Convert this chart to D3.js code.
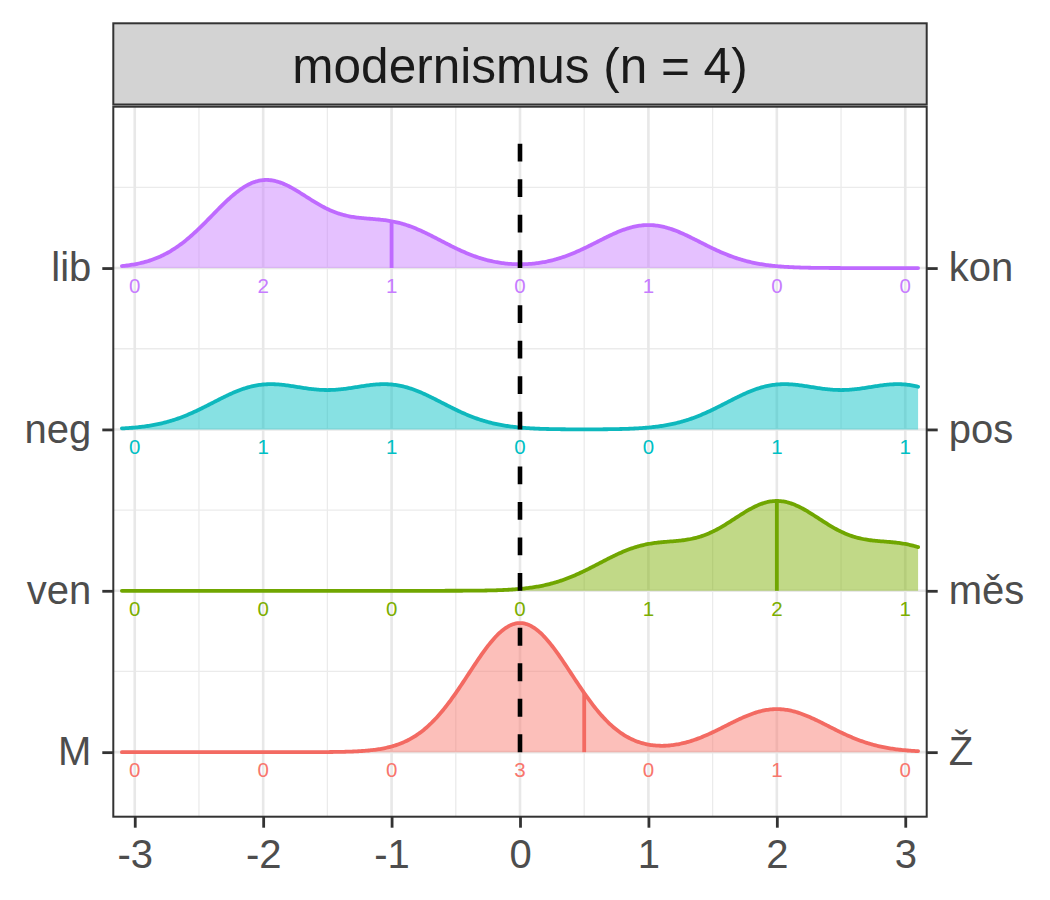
<!DOCTYPE html>
<html>
<head>
<meta charset="utf-8">
<script src="https://cdn.jsdelivr.net/npm/d3@7"></script>
<style>
  html, body { margin: 0; padding: 0; background: #fff; }
  svg { display: block; font-family: "Liberation Sans", Arial, Helvetica, sans-serif; }
</style>
</head>
<body>
<svg id="chart" width="1050" height="900"></svg>
<script>
// ---- data ----
const facetTitle = "modernismus (n = 4)";
const xTicks = [-3, -2, -1, 0, 1, 2, 3];
const leftLabels = ["M", "ven", "neg", "lib"];
const rightLabels = ["Ž", "měs", "pos", "kon"];
// counts of responses at each scale point (-3..3), per ridge (bottom to top)
const countsMZ  = [0, 0, 0, 3, 0, 1, 0];
const countsVen = [0, 0, 0, 0, 1, 2, 1];
const countsNeg = [0, 1, 1, 0, 0, 1, 1];
const countsLib = [0, 2, 1, 0, 1, 0, 0];
const ridgeColors = ["#F8766D", "#7CAE00", "#00BFC4", "#C77CFF"];
const lineColors  = ["#F36A62", "#70A600", "#0EB8BD", "#BF6AFF"];
const bandwidth = 0.4;
const densityRange = [-3.1, 3.1];
const zeroLineX = 0;

const ridges = [countsMZ, countsVen, countsNeg, countsLib].map((counts, i) => ({
  level: i + 1,
  left: leftLabels[i],
  right: rightLabels[i],
  color: ridgeColors[i],
  lineColor: lineColors[i],
  counts
}));

// ---- layout ----
const panel = { left: 113.3, right: 926.7, top: 106.7, bottom: 816.7 };
const strip = { top: 23.3, bottom: 104.5 };
const ridgeScale = 0.8;

const svg = d3.select("#chart");
const x = d3.scaleLinear().domain([-3.167, 3.167]).range([panel.left, panel.right]);
const y = d3.scaleLinear().domain([0.6, 5.0]).range([panel.bottom, panel.top]);

// ---- KDE per ridge (gaussian kernel over the counted responses) ----
function kdeAt(counts, px) {
  const n = d3.sum(counts);
  let s = 0;
  counts.forEach((c, j) => {
    const u = (px - xTicks[j]) / bandwidth;
    s += c * Math.exp(-0.5 * u * u);
  });
  return s / (n * bandwidth * Math.sqrt(2 * Math.PI));
}
ridges.forEach(r => {
  r.dens = d3.range(densityRange[0], densityRange[1] + 1e-9, 0.01).map(px => ({ x: px, d: kdeAt(r.counts, px) }));
  r.mean = d3.sum(r.counts.map((c, j) => c * xTicks[j])) / d3.sum(r.counts);
  r.meanD = kdeAt(r.counts, r.mean);
});
const maxD = d3.max(ridges, r => d3.max(r.dens, p => p.d));
const h = d => d / maxD * ridgeScale;

// ---- grid ----
const grid = svg.append("g");
const minorX = d3.range(-2.5, 3.0, 1);
const minorY = [1.5, 2.5, 3.5, 4.5];
grid.selectAll(".mx").data(minorX).join("line")
  .attr("x1", d => x(d)).attr("x2", d => x(d)).attr("y1", panel.top).attr("y2", panel.bottom)
  .attr("stroke", "#ebebeb").attr("stroke-width", 1.3);
grid.selectAll(".my").data(minorY).join("line")
  .attr("y1", d => y(d)).attr("y2", d => y(d)).attr("x1", panel.left).attr("x2", panel.right)
  .attr("stroke", "#ebebeb").attr("stroke-width", 1.3);
grid.selectAll(".Mx").data(xTicks).join("line")
  .attr("x1", d => x(d)).attr("x2", d => x(d)).attr("y1", panel.top).attr("y2", panel.bottom)
  .attr("stroke", "#e8e8e8").attr("stroke-width", 2.6);
grid.selectAll(".My").data([1, 2, 3, 4]).join("line")
  .attr("y1", d => y(d)).attr("y2", d => y(d)).attr("x1", panel.left).attr("x2", panel.right)
  .attr("stroke", "#e8e8e8").attr("stroke-width", 2.6);

// ---- ridges (top first) ----
const ridgeG = svg.append("g");
ridges.slice().reverse().forEach(r => {
  const g = ridgeG.append("g");
  const area = d3.area().x(p => x(p.x)).y0(y(r.level)).y1(p => y(r.level + h(p.d)));
  const line = d3.line().x(p => x(p.x)).y(p => y(r.level + h(p.d)));
  g.append("path").datum(r.dens).attr("d", area).attr("fill", r.color).attr("fill-opacity", 0.47);
  g.append("path").datum(r.dens).attr("d", line).attr("fill", "none")
    .attr("stroke", r.lineColor).attr("stroke-width", 3.8)
    .attr("stroke-linejoin", "round").attr("stroke-linecap", "round");
  g.append("line")
    .attr("x1", x(r.mean)).attr("x2", x(r.mean))
    .attr("y1", y(r.level)).attr("y2", y(r.level + h(r.meanD)))
    .attr("stroke", r.lineColor).attr("stroke-width", 3.8);
});

// ---- count labels ----
const labG = svg.append("g");
ridges.forEach(r => {
  labG.selectAll(null).data(r.counts).join("text")
    .attr("x", (c, j) => x(xTicks[j]))
    .attr("y", y(r.level) + 25)
    .attr("text-anchor", "middle")
    .attr("font-size", 20.5)
    .attr("fill", r.color)
    .text(c => c);
});

// ---- dashed zero line, one segment per ridge (baseline up to ridge height) ----
svg.append("g").selectAll("line").data(ridges).join("line")
  .attr("x1", x(zeroLineX)).attr("x2", x(zeroLineX))
  .attr("y1", r => y(r.level)).attr("y2", r => y(r.level + ridgeScale))
  .attr("stroke", "#000").attr("stroke-width", 4.6).attr("stroke-dasharray", "17.8,17.7");

// ---- panel border ----
svg.append("rect")
  .attr("x", panel.left).attr("y", panel.top)
  .attr("width", panel.right - panel.left).attr("height", panel.bottom - panel.top)
  .attr("fill", "none").attr("stroke", "#333").attr("stroke-width", 2);

// ---- strip ----
svg.append("rect")
  .attr("x", panel.left).attr("y", strip.top)
  .attr("width", panel.right - panel.left).attr("height", strip.bottom - strip.top)
  .attr("fill", "#d3d3d3").attr("stroke", "#333").attr("stroke-width", 2);
svg.append("text")
  .attr("x", (panel.left + panel.right) / 2).attr("y", 83)
  .attr("text-anchor", "middle").attr("font-size", 49.5).attr("fill", "#1a1a1a")
  .text(facetTitle);

// ---- axes ----
function styleAxis(g) {
  g.select(".domain").remove();
  g.selectAll(".tick line").attr("stroke", "#333").attr("stroke-width", 2.8);
  g.selectAll(".tick text").attr("fill", "#4d4d4d").attr("font-size", 40)
    .attr("font-family", "Liberation Sans, Arial, Helvetica, sans-serif");
}
svg.append("g").attr("transform", `translate(0,${panel.bottom})`)
  .call(d3.axisBottom(x).tickValues(xTicks).tickFormat(d3.format("d")).tickSize(11).tickPadding(11.5))
  .call(styleAxis);
svg.append("g").attr("transform", `translate(${panel.left},0)`)
  .call(d3.axisLeft(y).tickValues([1, 2, 3, 4]).tickFormat(v => leftLabels[v - 1]).tickSize(11).tickPadding(11))
  .call(styleAxis);
svg.append("g").attr("transform", `translate(${panel.right},0)`)
  .call(d3.axisRight(y).tickValues([1, 2, 3, 4]).tickFormat(v => rightLabels[v - 1]).tickSize(11).tickPadding(11))
  .call(styleAxis);
svg.selectAll(".tick text").each(function() {
  const t = d3.select(this);
  t.text(t.text().replace("\u2212", "-"));
});
</script>
</body>
</html>
